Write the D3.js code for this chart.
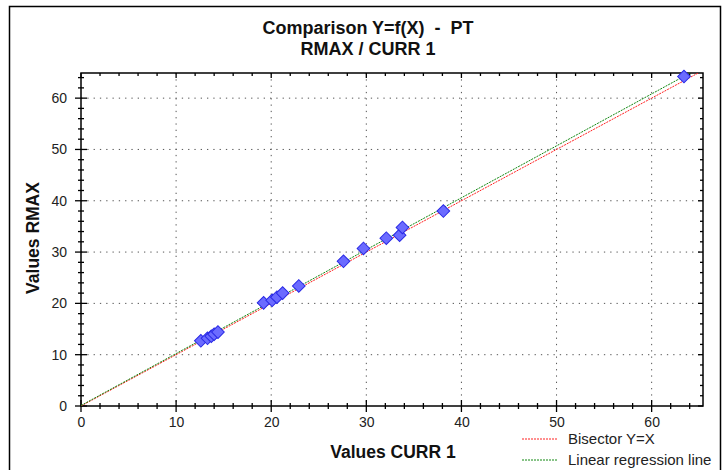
<!DOCTYPE html>
<html>
<head>
<meta charset="utf-8">
<script src="https://cdn.jsdelivr.net/npm/d3@7"></script>
<style>
  body { margin: 0; background: #fff; }
  text { font-family: "Liberation Sans", Arial, sans-serif; }
</style>
</head>
<body>
<div id="chart"></div>
<script>
// values
var currValues = [12.6, 13.3, 13.7, 14.0, 14.4, 19.2, 20.1, 20.6, 21.2, 22.9,
                  27.6, 29.7, 32.1, 33.5, 33.8, 38.1, 63.4];
var rmaxValues = [12.7, 13.2, 13.6, 14.0, 14.4, 20.1, 20.6, 21.2, 22.0, 23.4,
                  28.2, 30.7, 32.7, 33.3, 34.8, 38.0, 64.2];
var tickValues = [0, 10, 20, 30, 40, 50, 60];
var legendLabels = ["Bisector Y=X", "Linear regression line"];

var svgWidth = 728, svgHeight = 470;
var margin = {top: 73, right: 25, bottom: 64, left: 81};
var width = svgWidth - margin.left - margin.right;
var height = svgHeight - margin.top - margin.bottom;

var svg = d3.select("#chart").append("svg")
  .attr("width", svgWidth)
  .attr("height", svgHeight);

// outer frame
svg.append("rect")
  .attr("x", 9.5).attr("y", 6.5)
  .attr("width", 711).attr("height", 470)
  .attr("fill", "none").attr("stroke", "#000").attr("stroke-width", 1.5);

var points = currValues.map(function(d, i) { return {x: d, y: rmaxValues[i]}; });

var x = d3.scaleLinear().domain([0, 65.4]).range([0, width]);
var y = d3.scaleLinear().domain([0, 64.9]).range([height, 0]);

var g = svg.append("g").attr("transform", `translate(${margin.left}, ${margin.top})`);

var minorTicks = d3.range(0, 66, 2);

// dotted grid
g.append("g").selectAll("line").data(tickValues.slice(1)).enter().append("line")
  .attr("x1", d => x(d)).attr("x2", d => x(d))
  .attr("y1", 0).attr("y2", height)
  .attr("stroke", "#555").attr("stroke-dasharray", "1.3,5");
g.append("g").selectAll("line").data(tickValues.slice(1)).enter().append("line")
  .attr("y1", d => y(d)).attr("y2", d => y(d))
  .attr("x1", 0).attr("x2", width)
  .attr("stroke", "#555").attr("stroke-dasharray", "1.3,5");

// plot box
g.append("rect").attr("width", width).attr("height", height)
  .attr("fill", "none").attr("stroke", "#000").attr("stroke-width", 1.5);

// bottom axis
var xAxis = g.append("g").attr("transform", `translate(0, ${height})`)
  .call(d3.axisBottom(x).tickValues(tickValues).tickSize(0).tickPadding(11));
xAxis.select(".domain").remove();
xAxis.selectAll("text").attr("font-size", "14px").attr("fill", "#222");
g.append("g").selectAll("line").data(minorTicks).enter().append("line")
  .attr("x1", d => x(d)).attr("x2", d => x(d))
  .attr("y1", d => height - (d % 10 === 0 ? 6 : 3))
  .attr("y2", d => height + (d % 10 === 0 ? 6 : 3))
  .attr("stroke", "#000").attr("stroke-width", 1.3);

// left axis
var yAxis = g.append("g")
  .call(d3.axisLeft(y).tickValues(tickValues).tickSize(0).tickPadding(14));
yAxis.select(".domain").remove();
yAxis.selectAll("text").attr("font-size", "14px").attr("fill", "#222");
g.append("g").selectAll("line").data(minorTicks).enter().append("line")
  .attr("y1", d => y(d)).attr("y2", d => y(d))
  .attr("x1", d => -(d % 10 === 0 ? 6 : 3))
  .attr("x2", d => (d % 10 === 0 ? 6 : 3))
  .attr("stroke", "#000").attr("stroke-width", 1.3);

// top and right ticks, inward
g.append("g").selectAll("line").data(minorTicks).enter().append("line")
  .attr("x1", d => x(d)).attr("x2", d => x(d))
  .attr("y1", 0).attr("y2", d => (d % 10 === 0 ? 5 : 3))
  .attr("stroke", "#000").attr("stroke-width", 1.3);
g.append("g").selectAll("line").data(minorTicks).enter().append("line")
  .attr("y1", d => y(d)).attr("y2", d => y(d))
  .attr("x1", width).attr("x2", d => width - (d % 10 === 0 ? 5 : 3))
  .attr("stroke", "#000").attr("stroke-width", 1.3);

// regression from the points
var mx = d3.mean(currValues), my = d3.mean(rmaxValues);
var slope = d3.sum(points, d => (d.x - mx) * (d.y - my)) / d3.sum(points, d => (d.x - mx) * (d.x - mx));
var intercept = my - slope * mx;

g.append("clipPath").attr("id", "clip").append("rect")
  .attr("width", width).attr("height", height);
var lines = g.append("g").attr("clip-path", "url(#clip)");

lines.append("line")
  .attr("x1", x(0)).attr("y1", y(0))
  .attr("x2", x(65.4)).attr("y2", y(65.4))
  .attr("stroke", "#ff2020").attr("stroke-width", 1).attr("stroke-dasharray", "2,1");
lines.append("line")
  .attr("x1", x(0)).attr("y1", y(intercept))
  .attr("x2", x(65.4)).attr("y2", y(intercept + slope * 65.4))
  .attr("stroke", "#118811").attr("stroke-width", 1).attr("stroke-dasharray", "2,1");

// diamonds
g.append("g").selectAll("path").data(points).enter().append("path")
  .attr("d", d3.symbol().type(d3.symbolSquare).size(80))
  .attr("transform", d => `translate(${x(d.x)}, ${y(d.y)}) rotate(45)`)
  .attr("fill", "#6b6bff").attr("stroke", "#2a2ae6").attr("stroke-width", 1);

// titles
svg.append("text").attr("x", 368).attr("y", 34).attr("text-anchor", "middle")
  .attr("font-size", "18px").attr("font-weight", "bold").attr("fill", "#111")
  .attr("xml:space", "preserve")
  .text("Comparison Y=f(X)  -  PT");
svg.append("text").attr("x", 368).attr("y", 55).attr("text-anchor", "middle")
  .attr("font-size", "18px").attr("font-weight", "bold").attr("fill", "#111")
  .text("RMAX / CURR 1");

svg.append("text").attr("x", 393).attr("y", 458).attr("text-anchor", "middle")
  .attr("font-size", "17.5px").attr("font-weight", "bold").attr("fill", "#111")
  .text("Values CURR 1");
svg.append("text")
  .attr("transform", "translate(39, 238) rotate(-90)")
  .attr("text-anchor", "middle")
  .attr("font-size", "17.5px").attr("font-weight", "bold").attr("fill", "#111")
  .text("Values RMAX");

// legend
var legendColors = ["#ff2020", "#118811"];
var legend = svg.append("g").selectAll("g").data(legendLabels).enter().append("g")
  .attr("transform", (d, i) => `translate(522, ${439 + i * 21})`);
legend.append("line").attr("x1", 0).attr("x2", 35).attr("y1", 0).attr("y2", 0)
  .attr("stroke", (d, i) => legendColors[i]).attr("stroke-dasharray", "2,1");
legend.append("text").attr("x", 46).attr("y", 5)
  .attr("font-size", "15px").attr("fill", "#222")
  .text(d => d);
</script>
</body>
</html>
